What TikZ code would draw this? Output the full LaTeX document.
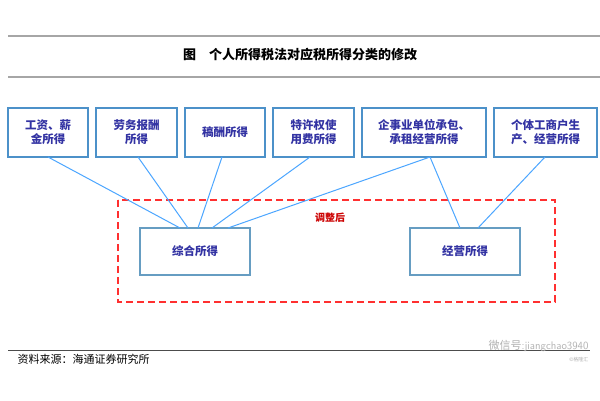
\documentclass[tikz,border=0pt]{standalone}
\usepackage{fontspec}
\newfontfamily\cjk{Noto Sans CJK SC}
\begin{document}
\begin{tikzpicture}[x=1pt,y=-1pt,font=\cjk\bfseries\fontsize{11.5}{14}\selectfont,
 top/.style={draw=blue!45!cyan!70!black!70,line width=1.4pt,fill=white,minimum width=80pt,minimum height=49pt,align=center,text=blue!55!black!80,inner sep=1pt},
 bot/.style={draw=blue!40!cyan!60!black!60,line width=1.2pt,fill=white,minimum width=110pt,minimum height=47pt,text=blue!55!black!80},
 ln/.style={draw=blue!50!cyan!70,line width=1pt}]
\useasboundingbox (0,0) rectangle (600,400);
\fill[white] (0,0) rectangle (600,400);
\draw[gray!70,line width=2pt] (8,36) -- (600,36);
\draw[gray!70,line width=2pt] (8,77) -- (600,77);
\node[font=\cjk\bfseries\fontsize{13}{15}\selectfont] (t) at (300,55) {图\quad 个人所得税法对应税所得分类的修改};
\node[top] (a) at (48,132.5) {工资、薪\\金所得};
\node[top,minimum width=81pt] (b) at (136.5,132.5) {劳务报酬\\所得};
\node[top] (c) at (225,132.5) {稿酬所得};
\node[top,minimum width=81pt] (d) at (313.5,132.5) {特许权使\\用费所得};
\node[top,minimum width=124pt] (e) at (424,132.5) {企事业单位承包、\\承租经营所得};
\node[top,minimum width=103pt] (f) at (545.5,132.5) {个体工商户生\\产、经营所得};
\draw[red!75!pink,line width=1.4pt,dash pattern=on 7pt off 4pt] (118,200) rectangle (555,302);
\node[text=red!80!black,font=\cjk\bfseries\fontsize{10}{12}\selectfont] (adj) at (330,218) {调整后};
\node[bot] (z) at (195,251.5) {综合所得};
\node[bot] (j) at (465,251.5) {经营所得};
\draw[ln] (48,157) -- (180,228);
\draw[ln] (138,157) -- (188,228);
\draw[ln] (222,157) -- (198,228);
\draw[ln] (310,157) -- (212,228);
\draw[ln] (430,157) -- (228,228);
\draw[ln] (430,157) -- (460,228);
\draw[ln] (545,157) -- (478,228);
\draw[black!70,line width=0.6pt] (8,350) -- (590,350);
\node[anchor=west,font=\cjk\fontsize{11}{13}\selectfont] (src) at (14,359) {资料来源：海通证券研究所};
\node[anchor=east,text=gray!60,font=\sffamily\fontsize{11}{13}\selectfont] (wm) at (592,346) {{\cjk 微信号}:jiangchao3940};
\node[anchor=east,text=gray!60,font=\cjk\fontsize{5}{6}\selectfont] (wm2) at (592,360) {©格隆汇};
\end{tikzpicture}
\end{document}
